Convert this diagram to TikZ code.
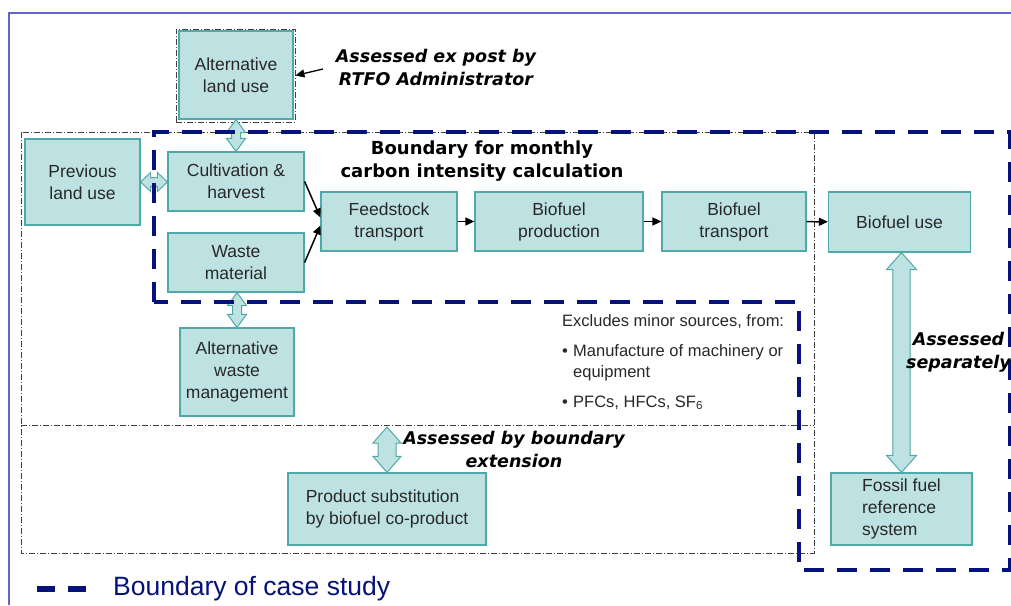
\documentclass[tikz,border=0pt]{standalone}
\usepackage{fontspec}
\setmainfont{Liberation Sans}
\newfontfamily\labelfont{DejaVu Sans}
\usetikzlibrary{arrows.meta,calc}

\definecolor{boxfill}{RGB}{190,225,225}
\definecolor{boxline}{RGB}{80,168,168}
\definecolor{navy}{RGB}{6,18,122}
\definecolor{framecol}{RGB}{100,100,200}
\definecolor{boxtext}{RGB}{40,40,40}

\tikzset{
  box/.style={draw=boxline, fill=boxfill, line width=1.2pt, inner sep=0pt,
    align=center, text=boxtext, font=\fontsize{17.5}{22}\selectfont},
  flow/.style={-{Triangle[length=9pt,width=8pt]}, line width=1.5pt},
  blockarrow/.style={draw=boxline, fill=boxfill, line width=1pt, line join=miter},
  ddline/.style={draw=black!75, line width=0.9pt, dash pattern=on 6pt off 2pt on 1pt off 2pt},
  casebound/.style={draw=navy, line width=4.6pt, dash pattern=on 20pt off 13pt},
  note/.style={font=\labelfont\bfseries\itshape\fontsize{17.5}{23}\selectfont,
    align=center, inner sep=0pt},
  heading/.style={font=\labelfont\bfseries\fontsize{18}{23}\selectfont,
    align=center, inner sep=0pt},
  small/.style={font=\fontsize{16.5}{21}\selectfont, text=boxtext, inner sep=0pt, anchor=base west},
}

% vertical double block arrow: #1 top end, #2 bottom end, #3 shaft half width,
% #4 head half width, #5 head length
\newcommand\vblock[5]{%
  \path[blockarrow] let \p1=#1, \p2=#2 in
    (\x2,\y1) -- (\x2+#4,\y1-#5) -- (\x2+#3,\y1-#5) -- (\x2+#3,\y2+#5)
    -- (\x2+#4,\y2+#5) -- (\x2,\y2) -- (\x2-#4,\y2+#5) -- (\x2-#3,\y2+#5)
    -- (\x2-#3,\y1-#5) -- (\x2-#4,\y1-#5) -- cycle;}
% horizontal double block arrow: #1 left end, #2 right end
\newcommand\hblock[5]{%
  \path[blockarrow] let \p1=#1, \p2=#2 in
    (\x1,\y1) -- (\x1+#5,\y1+#4) -- (\x1+#5,\y1+#3) -- (\x2-#5,\y1+#3)
    -- (\x2-#5,\y1+#4) -- (\x2,\y1) -- (\x2-#5,\y1-#4) -- (\x2-#5,\y1-#3)
    -- (\x1+#5,\y1-#3) -- (\x1+#5,\y1-#4) -- cycle;}

\begin{document}
\begin{tikzpicture}[x=1pt,y=-1pt]
\useasboundingbox (0,0) rectangle (1011,605);
\fill[white] (0,0) rectangle (1011,605);

% page frame
\coordinate (frA) at (9,605);
\coordinate (frB) at (9,13);
\coordinate (frC) at (1011,13);
\draw[framecol, line width=1.3pt] (frA) -- (frB) -- (frC);

% dash-dot boundaries
\draw[ddline] (21,132) rectangle (814,553);
\draw[ddline] (21,425) -- (814,425);
\node[ddline, minimum width=119pt, minimum height=93pt, inner sep=0pt] (aluframe) at (235.5,75.5) {};

% process boxes
\node[box, minimum width=114pt, minimum height=88pt] (alu) at (236,75) {Alternative\\land use};
\node[box, minimum width=115pt, minimum height=86pt] (plu) at (82.5,182) {Previous\\land use};
\node[box, minimum width=136pt, minimum height=59pt] (cult) at (236,181.5) {Cultivation \&\\harvest};
\node[box, minimum width=136pt, minimum height=59pt] (waste) at (236,262.5) {Waste\\material};
\node[box, minimum width=136pt, minimum height=59pt] (feed) at (389,221.5) {Feedstock\\transport};
\node[box, minimum width=168pt, minimum height=59pt] (prod) at (559,221.5) {Biofuel\\production};
\node[box, minimum width=144pt, minimum height=59pt] (trans) at (734,221.5) {Biofuel\\transport};
\node[box, minimum width=142pt, minimum height=60pt] (use) at (899.5,222) {Biofuel use};
\node[box, minimum width=114pt, minimum height=88pt] (awm) at (237,372) {Alternative\\waste\\management};
\node[box, minimum width=198pt, minimum height=72pt, align=left] (psub) at (387,509) {Product substitution\\by biofuel co-product};
\node[box, minimum width=141pt, minimum height=72pt, align=left] (fossil) at (901.5,509) {Fossil fuel\\reference\\system};

% flows
\draw[flow] (cult.east) -- ([yshift=4pt]feed.west);
\draw[flow] (waste.east) -- ([yshift=-4pt]feed.west);
\draw[flow] (feed) -- (prod);
\draw[flow] (prod) -- (trans);
\draw[flow] (trans) -- (use);

% two-way block arrows
\coordinate (extTop) at (387,427);
\vblock{(alu.south)}{(cult.north)}{4.5pt}{9.5pt}{13pt}
\hblock{(plu.east)}{(cult.west)}{4.5pt}{9.5pt}{10pt}
\vblock{(waste.south)}{(awm.north)}{4.5pt}{9.5pt}{13pt}
\vblock{(extTop)}{(psub.north)}{9pt}{14pt}{16pt}
\vblock{(use.south)}{(fossil.north)}{8.7pt}{15pt}{17pt}

% case study boundary
\draw[casebound] (154,302) -- (154,132) -- (1010,132) -- (1010,570)
  -- (799,570) -- (799,302) -- cycle;

% annotations
\node[note] (expost) at (436,67.5) {Assessed ex post by\\RTFO Administrator};
\coordinate (expostTip) at (323,69);
\draw[flow, line width=1.3pt] (expostTip) -- (aluframe.east);
\node[heading] (monthly) at (482,161) {Boundary for monthly\\carbon intensity calculation};
\node[note] (extnote) at (514,449) {Assessed by boundary\\extension};
\node[note] (sepnote) at (958.5,352) {Assessed\\separately};

\node[small] (excl) at (562,326) {Excludes minor sources, from:};
\node[small] (bulA) at (562,356) {•};
\node[small] (itemA) at (573,356) {Manufacture of machinery or};
\node[small] (itemAb) at (573,377) {equipment};
\node[small] (bulB) at (562,407) {•};
\node[small] (itemB) at (573,407) {PFCs, HFCs, SF\textsubscript{6}};

% legend
\coordinate (legA) at (37,589);
\coordinate (legB) at (87,589);
\draw[casebound, line width=6.5pt, dash pattern=on 18pt off 13pt] (legA) -- (legB);
\node[anchor=west, inner sep=0pt, text=navy, font=\fontsize{26.5}{30}\selectfont] (legtext) at (113,589) {Boundary of case study};
\end{tikzpicture}
\end{document}
